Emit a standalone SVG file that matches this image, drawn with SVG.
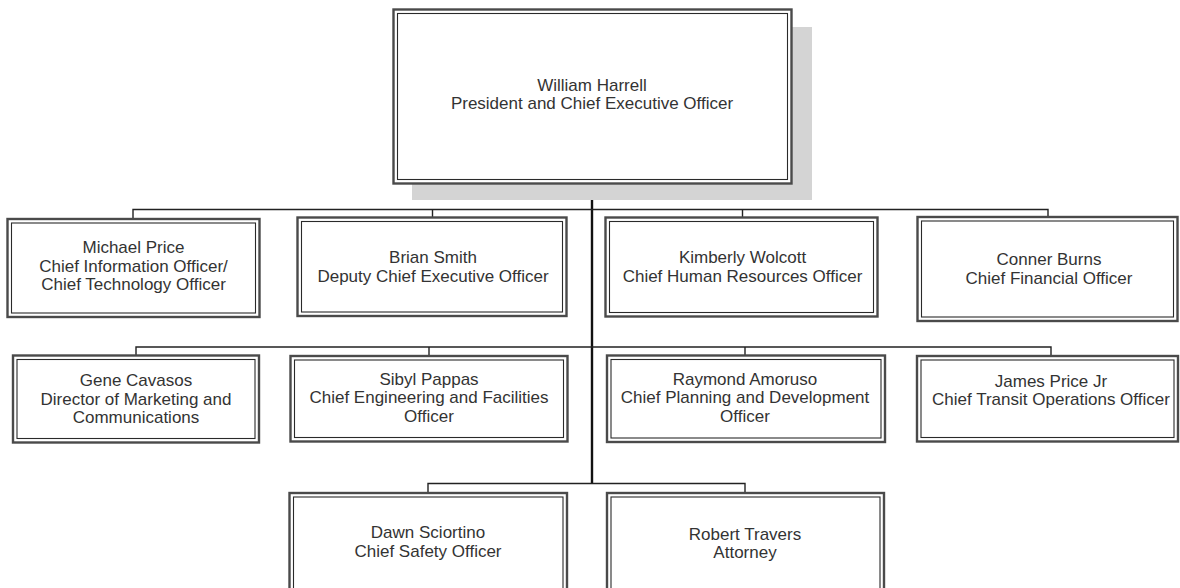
<svg xmlns="http://www.w3.org/2000/svg" width="1180" height="588" viewBox="0 0 1180 588">
<style>
.o{fill:#fff;stroke:#4a4a4a;stroke-width:2.4}
.i{fill:none;stroke:#2a2a2a;stroke-width:1.1}
.t{font-family:"Liberation Sans",Arial,sans-serif;font-size:17px;fill:#333;text-anchor:middle}
.c{fill:none;stroke:#222;stroke-width:1.4}
.k{fill:none;stroke:#111;stroke-width:2.4}
</style>
<rect x="1" y="1" width="1178" height="586" fill="#fff" stroke="none"/>
<g id="connectors">
<line class="k" x1="592" y1="183" x2="592" y2="484"/>
<polyline class="c" points="133,219 133,209.5 1048,209.5 1048,217"/>
<line class="c" x1="432.5" y1="209.5" x2="432.5" y2="217"/>
<line class="c" x1="742.5" y1="209.5" x2="742.5" y2="217"/>
<polyline class="c" points="136,355 136,347 1051,347 1051,356"/>
<line class="c" x1="429" y1="347" x2="429" y2="356"/>
<line class="c" x1="745" y1="347" x2="745" y2="355"/>
<polyline class="c" points="428,493 428,483.5 745,483.5 745,493"/>
</g>
<g id="ceo">
<rect x="412" y="27" width="400" height="173" fill="#d4d4d4"/>
<rect class="o" x="393.5" y="9.5" width="398" height="174"/>
<rect class="i" x="397.5" y="13.5" width="390" height="166"/>
<text class="t" x="592" y="91">William Harrell</text>
<text class="t" x="592" y="109">President and Chief Executive Officer</text>
</g>
<g id="michael-price">
<rect class="o" x="7.5" y="219" width="252" height="98"/>
<rect class="i" x="11.5" y="223" width="244" height="90"/>
<text class="t" x="133.5" y="253">Michael Price</text>
<text class="t" x="133.5" y="271.7">Chief Information Officer/</text>
<text class="t" x="133.5" y="290.4">Chief Technology Officer</text>
</g>
<g id="brian-smith">
<rect class="o" x="297.5" y="217.5" width="269" height="98.5"/>
<rect class="i" x="301.5" y="221.5" width="261" height="90.5"/>
<text class="t" x="433" y="263">Brian Smith</text>
<text class="t" x="433" y="281.5">Deputy Chief Executive Officer</text>
</g>
<g id="kimberly-wolcott">
<rect class="o" x="605.5" y="217.5" width="272" height="99"/>
<rect class="i" x="609.5" y="221.5" width="264" height="91"/>
<text class="t" x="742.5" y="263">Kimberly Wolcott</text>
<text class="t" x="742.5" y="281.5">Chief Human Resources Officer</text>
</g>
<g id="conner-burns">
<rect class="o" x="917.5" y="217" width="260" height="104"/>
<rect class="i" x="921.5" y="221" width="252" height="96"/>
<text class="t" x="1049" y="265">Conner Burns</text>
<text class="t" x="1049" y="283.5">Chief Financial Officer</text>
</g>
<g id="gene-cavasos">
<rect class="o" x="13" y="355.5" width="246" height="87"/>
<rect class="i" x="17" y="359.5" width="238" height="79"/>
<text class="t" x="136" y="386">Gene Cavasos</text>
<text class="t" x="136" y="404.6">Director of Marketing and</text>
<text class="t" x="136" y="423.2">Communications</text>
</g>
<g id="sibyl-pappas">
<rect class="o" x="290.5" y="356" width="277" height="85.5"/>
<rect class="i" x="294.5" y="360" width="269" height="77.5"/>
<text class="t" x="429" y="384.5">Sibyl Pappas</text>
<text class="t" x="429" y="403.1">Chief Engineering and Facilities</text>
<text class="t" x="429" y="421.7">Officer</text>
</g>
<g id="raymond-amoruso">
<rect class="o" x="607" y="355.5" width="278" height="86.5"/>
<rect class="i" x="611" y="359.5" width="270" height="78.5"/>
<text class="t" x="745" y="384.5">Raymond Amoruso</text>
<text class="t" x="745" y="403.1">Chief Planning and Development</text>
<text class="t" x="745" y="421.7">Officer</text>
</g>
<g id="james-price-jr">
<rect class="o" x="917" y="356" width="261" height="85.5"/>
<rect class="i" x="921" y="360" width="253" height="77.5"/>
<text class="t" x="1051" y="386.5">James Price Jr</text>
<text class="t" x="1051" y="405">Chief Transit Operations Officer</text>
</g>
<g id="dawn-sciortino">
<rect class="o" x="289.5" y="493" width="277.5" height="100"/>
<rect class="i" x="293.5" y="497" width="269.5" height="92"/>
<text class="t" x="428" y="538">Dawn Sciortino</text>
<text class="t" x="428" y="556.5">Chief Safety Officer</text>
</g>
<g id="robert-travers">
<rect class="o" x="607" y="493" width="277" height="100"/>
<rect class="i" x="611" y="497" width="269" height="92"/>
<text class="t" x="745" y="540">Robert Travers</text>
<text class="t" x="745" y="558">Attorney</text>
</g>
</svg>
